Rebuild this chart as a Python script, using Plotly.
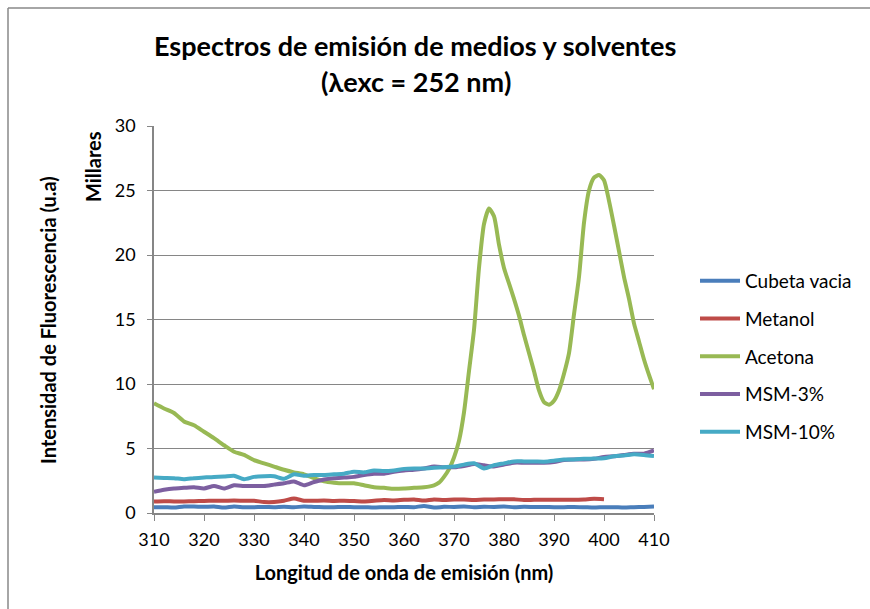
import plotly.graph_objects as go

# ---------------- data (intensity in thousands, "Millares") ----------------
wl = list(range(310, 411, 2))

cubeta_vacia = [0.45, 0.45, 0.42, 0.50, 0.50, 0.48, 0.50, 0.42, 0.50, 0.45,
                0.45, 0.47, 0.45, 0.48, 0.45, 0.50, 0.47, 0.45, 0.45, 0.47,
                0.45, 0.45, 0.42, 0.45, 0.45, 0.47, 0.45, 0.55, 0.42, 0.48,
                0.47, 0.50, 0.45, 0.48, 0.47, 0.50, 0.45, 0.48, 0.47, 0.47,
                0.45, 0.45, 0.47, 0.45, 0.42, 0.45, 0.45, 0.42, 0.45, 0.47, 0.50]

wl_metanol = list(range(310, 401, 2))
metanol = [0.90, 0.92, 0.90, 0.90, 0.92, 0.93, 0.95, 0.95, 0.97, 0.95,
           0.95, 0.85, 0.85, 0.95, 1.12, 0.95, 0.95, 0.97, 0.93, 0.95,
           0.93, 0.90, 0.95, 1.00, 0.97, 1.02, 1.05, 0.97, 1.05, 1.00,
           1.05, 1.05, 1.00, 1.05, 1.05, 1.07, 1.07, 1.00, 1.02, 1.02,
           1.02, 1.02, 1.02, 1.05, 1.10, 1.07]

wl_acetona = [310, 312, 314, 316, 318, 320, 322, 324, 326, 328, 330, 332, 334,
              336, 338, 340, 342, 344, 346, 348, 350, 352, 354, 356, 358, 360,
              362, 364, 366, 367, 368, 369, 370, 371, 372, 373, 374, 375, 376,
              377, 378, 379, 380, 381, 382, 383, 384, 385, 386, 387, 388, 389,
              390, 391, 392, 393, 394, 395, 396, 397, 398, 399, 400, 401, 402,
              403, 404, 405, 406, 407, 408, 409, 410]
acetona = [8.5, 8.1, 7.75, 7.1, 6.8, 6.3, 5.8, 5.25, 4.75, 4.5, 4.1, 3.85, 3.6,
           3.35, 3.15, 3.0, 2.7, 2.45, 2.35, 2.3, 2.3, 2.15, 2.0, 1.95, 1.88, 1.9,
           1.95, 2.0, 2.15, 2.35, 2.8, 3.4, 4.3, 5.6, 7.8, 11.0, 14.2, 19.0, 22.4,
           23.6, 23.0, 20.8, 19.0, 17.8, 16.6, 15.3, 13.8, 12.4, 11.0, 9.5, 8.6, 8.4,
           8.7, 9.5, 10.8, 12.4, 15.4, 18.3, 22.5, 25.0, 26.0, 26.2, 25.8, 24.2, 22.3,
           20.3, 18.3, 16.6, 14.7, 13.3, 11.9, 10.7, 9.6]

msm_3 = [1.65, 1.80, 1.90, 1.95, 2.00, 1.90, 2.10, 1.90, 2.15, 2.10,
         2.10, 2.10, 2.20, 2.30, 2.45, 2.15, 2.40, 2.60, 2.70, 2.75,
         2.80, 2.95, 3.05, 3.05, 3.20, 3.30, 3.35, 3.45, 3.60, 3.55,
         3.55, 3.65, 3.80, 3.70, 3.60, 3.75, 3.90, 3.90, 3.90, 3.90,
         3.95, 4.10, 4.15, 4.15, 4.20, 4.35, 4.40, 4.50, 4.60, 4.60, 4.85]

msm_10 = [2.75, 2.72, 2.70, 2.62, 2.70, 2.75, 2.80, 2.82, 2.88, 2.62,
          2.80, 2.85, 2.85, 2.65, 3.00, 2.88, 2.95, 2.95, 3.00, 3.05,
          3.20, 3.15, 3.30, 3.25, 3.30, 3.42, 3.45, 3.45, 3.50, 3.55,
          3.60, 3.75, 3.85, 3.45, 3.70, 3.85, 4.00, 4.00, 4.00, 3.98,
          4.05, 4.15, 4.15, 4.20, 4.22, 4.25, 4.40, 4.45, 4.55, 4.50, 4.42]

x_ticks = list(range(310, 411, 10))
y_ticks = [0, 5, 10, 15, 20, 25, 30]

series = [
    ("Cubeta vacia", wl, cubeta_vacia, "#4A7EBB"),
    ("Metanol", wl_metanol, metanol, "#BE4B48"),
    ("Acetona", wl_acetona, acetona, "#98B954"),
    ("MSM-3%", wl, msm_3, "#7D5FA0"),
    ("MSM-10%", wl, msm_10, "#46AAC5"),
]

FONT = "Lato"
GRID = "#868686"

fig = go.Figure()
for i, (name, xs, ys, col) in enumerate(series):
    fig.add_trace(go.Scatter(
        x=xs, y=ys, name=name, mode="lines",
        line=dict(color=col, width=4, shape="spline", smoothing=0.6),
        legendgroup=f"g{i}",
    ))

# Plot area: x 154..654 px, y 126..513 px
L, R, T, B = 154, 216, 126, 96
W, H = 870, 609
pw, ph = W - L - R, H - T - B


def px(xp):
    return (xp - L) / pw


def py(yp):
    return (H - B - yp) / ph


fig.update_layout(
    width=W, height=H,
    margin=dict(l=L, r=R, t=T, b=B, autoexpand=False),
    paper_bgcolor="white", plot_bgcolor="white",
    font=dict(family=FONT, color="#000000", size=18),
    showlegend=True,
    legend=dict(
        x=px(695), y=py(262), xanchor="left", yanchor="top",
        font=dict(family=FONT, size=19, color="#000000"),
        tracegroupgap=10, bgcolor="rgba(0,0,0,0)", itemwidth=40,
    ),
    xaxis=dict(
        range=[310, 410], tickvals=x_ticks, ticktext=[str(v) for v in x_ticks],
        showgrid=False, zeroline=False,
        showline=True, linecolor=GRID, linewidth=1.5,
        ticks="outside", ticklen=6, tickcolor=GRID, tickwidth=1,
        tickfont=dict(family=FONT, size=18), ticklabelstandoff=4,
        title=dict(text="<b>Longitud de onda de emisión (nm)</b>",
                   font=dict(family=FONT, size=20), standoff=17),
    ),
    yaxis=dict(
        range=[0, 30], tickvals=y_ticks, ticktext=[str(v) for v in y_ticks],
        showgrid=True, gridcolor=GRID, gridwidth=1, zeroline=False,
        showline=True, linecolor=GRID, linewidth=1.5,
        ticks="outside", ticklen=5, tickcolor=GRID, tickwidth=1,
        tickfont=dict(family=FONT, size=18), ticklabelstandoff=8,
    ),
    annotations=[
        dict(text="<b>Espectros de emisión de medios y solventes</b>",
             x=px(415), y=py(46), xref="paper", yref="paper",
             xanchor="center", yanchor="middle", showarrow=False,
             font=dict(family=FONT, size=27)),
        dict(text="<b>(λexc = 252 nm)</b>",
             x=px(416), y=py(81), xref="paper", yref="paper",
             xanchor="center", yanchor="middle", showarrow=False,
             font=dict(family=FONT, size=27)),
        dict(text="<b>Intensidad de Fluorescencia (u.a)</b>",
             x=px(48), y=py(320), xref="paper", yref="paper",
             xanchor="center", yanchor="middle", showarrow=False, textangle=-90,
             font=dict(family=FONT, size=20)),
        dict(text="<b>Millares</b>",
             x=px(93), y=py(167), xref="paper", yref="paper",
             xanchor="center", yanchor="middle", showarrow=False, textangle=-90,
             font=dict(family=FONT, size=20)),
    ],
    shapes=[
        dict(type="line", xref="paper", yref="paper",
             x0=px(8), x1=px(8), y0=py(8), y1=py(615),
             line=dict(color="#898989", width=1.5)),
        dict(type="line", xref="paper", yref="paper",
             x0=px(8), x1=px(875), y0=py(8), y1=py(8),
             line=dict(color="#898989", width=1.5)),
    ],
)

fig.write_html("out.html")
